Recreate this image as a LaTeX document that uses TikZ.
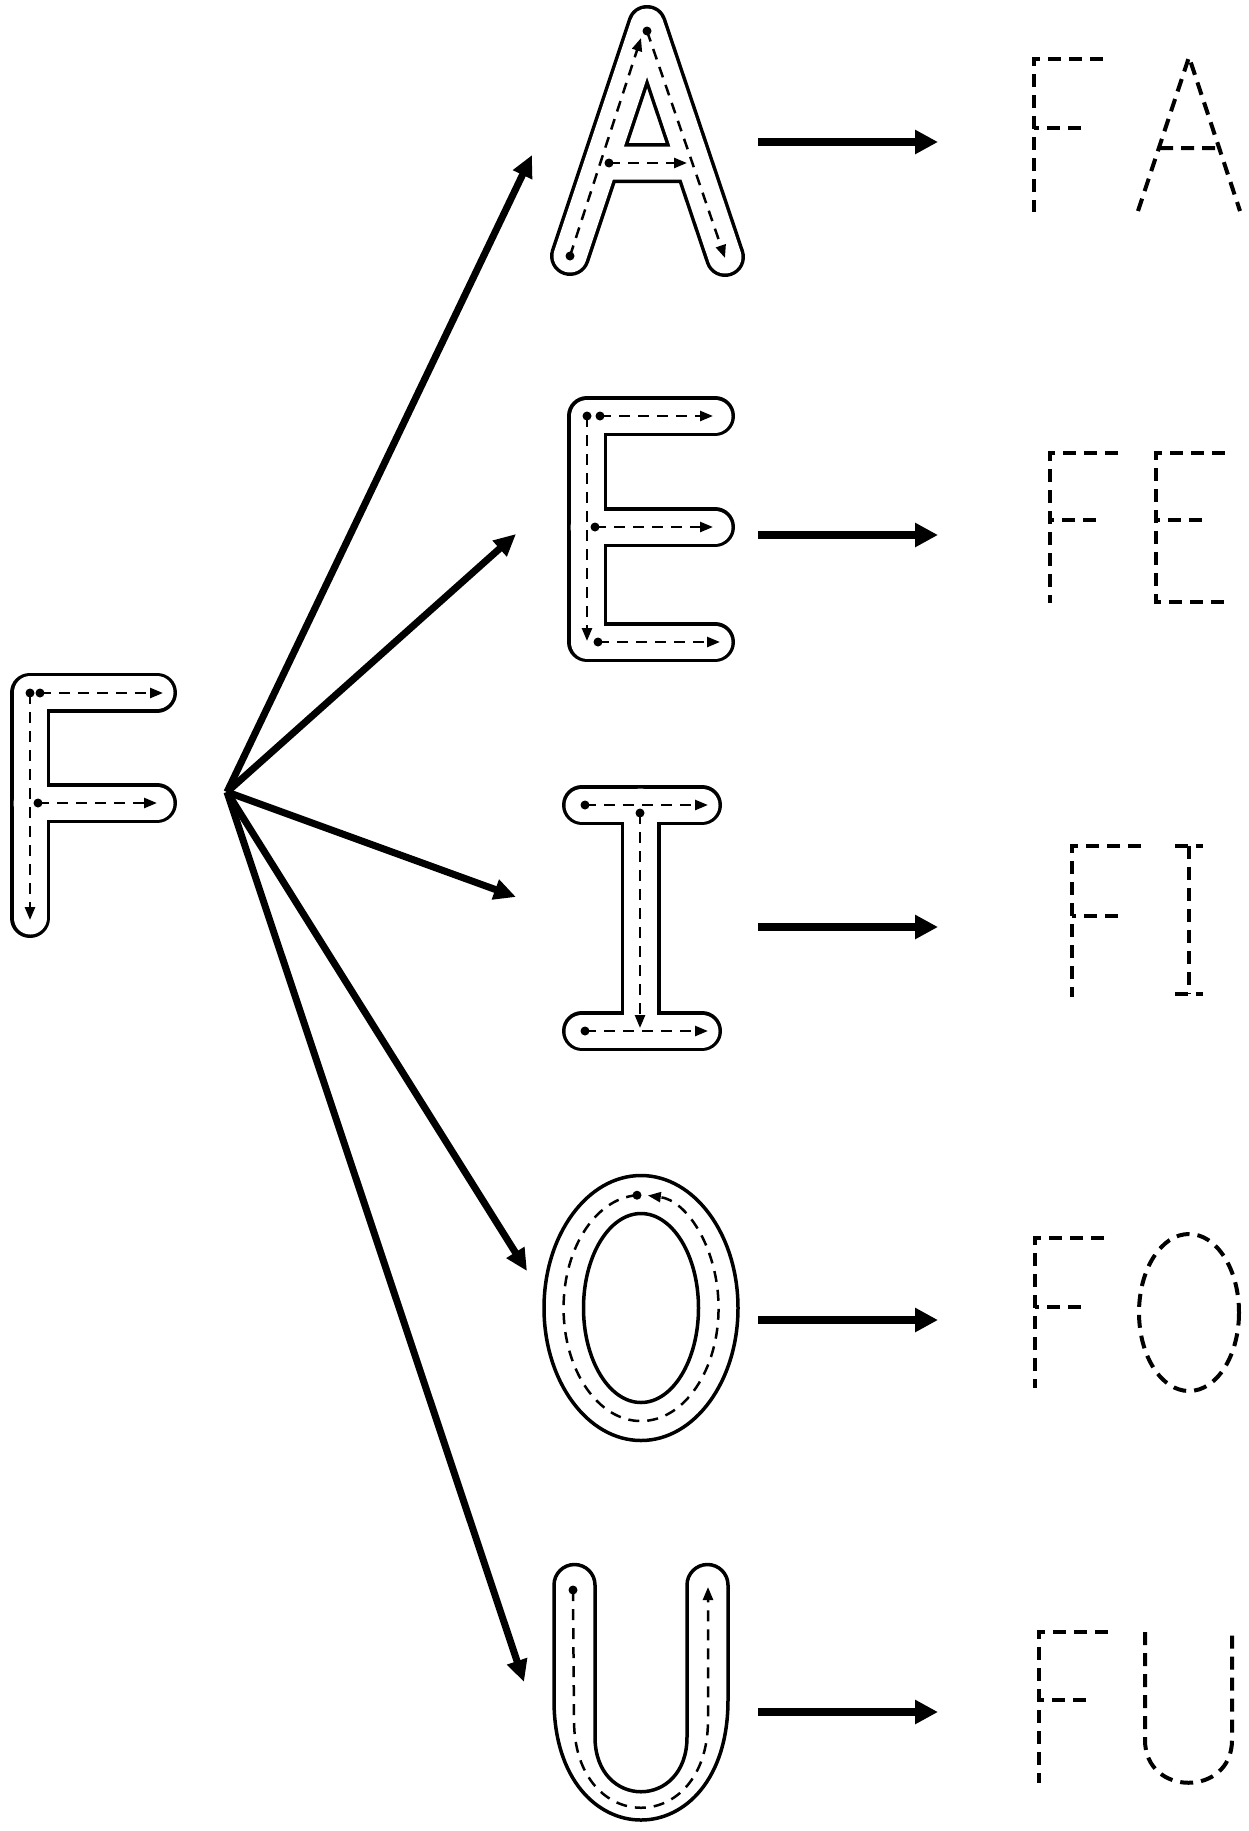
\documentclass[tikz,border=0pt]{standalone}
\usetikzlibrary{arrows.meta}
\begin{document}
\begin{tikzpicture}[x=1pt,y=-1pt,
 hollow/.style={line width=3.5pt, double=white, double distance=33pt, line cap=round, line join=round},
 rim/.style={line width=3.5pt, line join=round},
 guide/.style={line width=2.5pt, dash pattern=on 11pt off 8pt},
 guidearrow/.style={guide, -{Triangle[length=13pt,width=10pt]}},
 trace/.style={line width=4pt, dash pattern=on 13pt off 8pt},
 bigarrow/.style={line width=7pt, -{Triangle[length=22pt,width=20pt]}},
 rowarrow/.style={line width=8pt, -{Triangle[length=23pt,width=23pt]}}
]
\useasboundingbox (0,0) rectangle (1248,1831);
\fill[white] (0,0) rectangle (1248,1831);

% ---------- F (left) ----------
\draw[hollow] (157,692.5) -- (30,692.5) -- (30,918) (30,803) -- (157,803);
\draw[guidearrow] (30,693) -- (30,920);
\draw[guidearrow] (40,693) -- (163,693);
\draw[guidearrow] (38,803) -- (157,803);
\fill (30,693) circle[radius=4.5] (40,693) circle[radius=4.5] (38,803) circle[radius=4.5];

% ---------- A ----------
\draw[hollow] (570,256) -- (647,25) -- (725,257) (602,163) -- (692,163);
\draw[guidearrow] (570,256) -- (641,38);
\draw[guidearrow] (647,31) -- (725,258);
\draw[guidearrow] (609,163) -- (687,163);
\fill (570,256) circle[radius=4.5] (647,31) circle[radius=4.5] (609,163) circle[radius=4.5];

% ---------- E ----------
\draw[hollow] (715,416) -- (587,416) -- (587,642) -- (715,642) (587,527) -- (715,527);
\draw[guidearrow] (587,416) -- (587,641);
\draw[guidearrow] (600,416) -- (713,416);
\draw[guidearrow] (595,527) -- (713,527);
\draw[guidearrow] (598,642) -- (720,642);
\fill (587,416) circle[radius=4.5] (600,416) circle[radius=4.5] (595,527) circle[radius=4.5] (598,642) circle[radius=4.5];

% ---------- I ----------
\draw[hollow] (582,805) -- (702,805) (640.5,805) -- (640.5,1031) (582,1031) -- (702,1031);
\draw[guidearrow] (585,805) -- (708,805);
\draw[guidearrow] (640,813) -- (640,1028);
\draw[guidearrow] (585,1031) -- (708,1031);
\fill (585,805) circle[radius=4.5] (640,813) circle[radius=4.5] (585,1031) circle[radius=4.5];

% ---------- O ----------
\draw[rim] (641,1308) ellipse[x radius=97, y radius=132.5];
\draw[rim] (641,1308) ellipse[x radius=57.5, y radius=94.5];
\draw[guidearrow] (637,1195.2) arc[start angle=267, end angle=-85, x radius=77.5, y radius=113];
\fill (637,1195.2) circle[radius=4.5];

% ---------- U ----------
\draw[rim] (595,1737) -- (595,1585) arc[start angle=0, end angle=-180, radius=20.5]
  -- (554,1700) .. controls (554,1860) and (728,1860) .. (728,1700)
  -- (728,1585) arc[start angle=0, end angle=-180, radius=20.5]
  -- (687,1737) .. controls (687,1810) and (595,1810) .. cycle;
\draw[guidearrow] (573,1590) -- (574,1720) .. controls (574,1837) and (708,1837) .. (708,1720) -- (708,1587);
\fill (573,1590) circle[radius=4.5];

% ---------- connectors ----------
\coordinate (hub) at (227,792);
\coordinate (toA) at (532,155);
\coordinate (toE) at (516,534);
\coordinate (toI) at (516,897);
\coordinate (toO) at (527,1271);
\coordinate (toU) at (524,1682);
\draw[bigarrow] (hub) -- (toA);
\draw[bigarrow] (hub) -- (toE);
\draw[bigarrow] (hub) -- (toI);
\draw[bigarrow] (hub) -- (toO);
\draw[bigarrow] (hub) -- (toU);

\foreach \r/\yy in {A/142, E/535, I/927, O/1320, U/1712}{
  \coordinate (\r s) at (758,\yy);
  \coordinate (\r e) at (938,\yy);
  \draw[rowarrow] (\r s) -- (\r e);
}

% ---------- traced syllables ----------
% FA
\draw[trace] (1103,59) -- (1034,59) -- (1034,212) (1081,128) -- (1034,128);
\draw[trace] (1138,211) -- (1189,57) -- (1240,211) (1160,148) -- (1219,148);
% FE
\draw[trace] (1118,453) -- (1050,453) -- (1050,603) (1096,520) -- (1050,520);
\draw[trace] (1225,453) -- (1156,453) -- (1156,602) -- (1225,602) (1202,520) -- (1156,520);
% FI
\draw[trace] (1141,846) -- (1072,846) -- (1072,997) (1118,916) -- (1072,916);
\draw[trace] (1175,846) -- (1203,846) (1189,846) -- (1189,994) (1175,994) -- (1203,994);
% FO
\draw[trace] (1104,1238) -- (1035,1238) -- (1035,1388) (1081,1307) -- (1035,1307);
\draw[trace] (1189,1312.5) ellipse[x radius=50, y radius=78.5];
% FU
\draw[trace] (1108,1632) -- (1039,1632) -- (1039,1783) (1086,1700) -- (1039,1700);
\draw[trace] (1145,1632) -- (1145,1740) .. controls (1145,1797) and (1232,1797) .. (1232,1740) -- (1232,1632);
\end{tikzpicture}
\end{document}
